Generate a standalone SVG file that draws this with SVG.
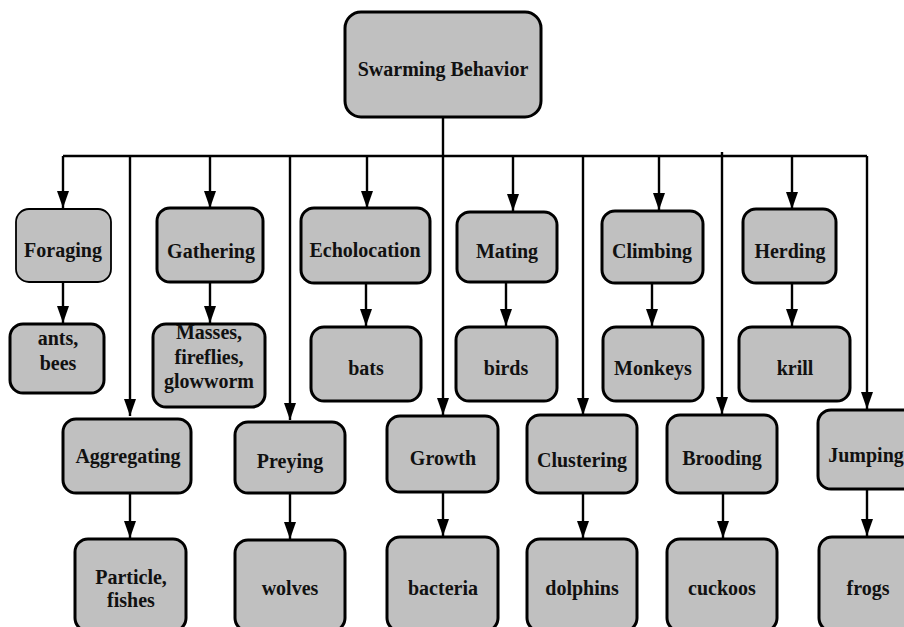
<svg xmlns="http://www.w3.org/2000/svg" width="904" height="627" viewBox="0 0 904 627">
<style>
.n rect{fill:#c0c0c0;stroke:#000;stroke-width:3}
.n.thin rect{stroke-width:1.8}
.n text{font-family:"Liberation Serif","Times New Roman",serif;font-weight:bold;font-size:20px;fill:#111;text-anchor:middle}
#connectors path{fill:none;stroke:#000;stroke-width:2.4}
</style>
<defs>
<marker id="ah" markerUnits="userSpaceOnUse" markerWidth="12" markerHeight="17" refX="6" refY="17" orient="0" viewBox="0 0 12 17">
<path d="M0,0 L12,0 L6,17 z" fill="#000"/>
</marker>
</defs>
<rect width="904" height="627" fill="#fff"/>
<g id="connectors">
<path d="M443,117 V156"/>
<path d="M63,156 H867"/>
<path d="M63,156 V208" marker-end="url(#ah)"/>
<path d="M130,156 V416" marker-end="url(#ah)"/>
<path d="M210,156 V208" marker-end="url(#ah)"/>
<path d="M290,156 V420" marker-end="url(#ah)"/>
<path d="M367,156 V208" marker-end="url(#ah)"/>
<path d="M443,156 V415" marker-end="url(#ah)"/>
<path d="M513,156 V211" marker-end="url(#ah)"/>
<path d="M583,156 V415" marker-end="url(#ah)"/>
<path d="M659,156 V210" marker-end="url(#ah)"/>
<path d="M722,152 V414" marker-end="url(#ah)"/>
<path d="M792,156 V209" marker-end="url(#ah)"/>
<path d="M867,156 V409" marker-end="url(#ah)"/>
<path d="M63,282 V323" marker-end="url(#ah)"/>
<path d="M210,282 V323" marker-end="url(#ah)"/>
<path d="M366,283 V326" marker-end="url(#ah)"/>
<path d="M506,282 V326" marker-end="url(#ah)"/>
<path d="M652,283 V326" marker-end="url(#ah)"/>
<path d="M792,283 V326" marker-end="url(#ah)"/>
<path d="M130,493 V538" marker-end="url(#ah)"/>
<path d="M290,493 V539" marker-end="url(#ah)"/>
<path d="M443,492 V536" marker-end="url(#ah)"/>
<path d="M583,493 V538" marker-end="url(#ah)"/>
<path d="M723,493 V538" marker-end="url(#ah)"/>
<path d="M867,489 V536" marker-end="url(#ah)"/>
</g>
<g id="swarming" class="n"><rect x="345" y="12" width="196" height="105" rx="16"/><text x="443" y="76">Swarming Behavior</text></g>
<g id="foraging" class="n thin"><rect x="16" y="209" width="95" height="73" rx="13"/><text x="63" y="257">Foraging</text></g>
<g id="gathering" class="n"><rect x="157" y="208" width="106" height="74" rx="13"/><text x="211" y="258">Gathering</text></g>
<g id="echolocation" class="n"><rect x="301" y="208" width="129" height="75" rx="13"/><text x="365" y="257">Echolocation</text></g>
<g id="mating" class="n"><rect x="457" y="212" width="100" height="70" rx="13"/><text x="507" y="258">Mating</text></g>
<g id="climbing" class="n"><rect x="602" y="211" width="101" height="72" rx="13"/><text x="652" y="258">Climbing</text></g>
<g id="herding" class="n"><rect x="743" y="209" width="93" height="74" rx="13"/><text x="790" y="258">Herding</text></g>
<g id="ants" class="n"><rect x="10" y="324" width="94" height="69" rx="13"/><text x="58" y="345">ants,</text><text x="58" y="370">bees</text></g>
<g id="masses" class="n"><rect x="153" y="324" width="112" height="83" rx="13"/><text x="209" y="339">Masses,</text><text x="209" y="364">fireflies,</text><text x="209" y="388">glowworm</text></g>
<g id="bats" class="n"><rect x="311" y="327" width="110" height="74" rx="13"/><text x="366" y="375">bats</text></g>
<g id="birds" class="n"><rect x="456" y="327" width="101" height="74" rx="13"/><text x="506" y="375">birds</text></g>
<g id="monkeys" class="n"><rect x="603" y="327" width="100" height="74" rx="13"/><text x="653" y="375">Monkeys</text></g>
<g id="krill" class="n"><rect x="739" y="327" width="111" height="74" rx="13"/><text x="795" y="375">krill</text></g>
<g id="aggregating" class="n"><rect x="63" y="419" width="128" height="74" rx="13"/><text x="128" y="463">Aggregating</text></g>
<g id="preying" class="n"><rect x="235" y="422" width="110" height="71" rx="13"/><text x="290" y="468">Preying</text></g>
<g id="growth" class="n"><rect x="387" y="416" width="111" height="76" rx="13"/><text x="443" y="465">Growth</text></g>
<g id="clustering" class="n"><rect x="527" y="415" width="110" height="78" rx="13"/><text x="582" y="467">Clustering</text></g>
<g id="brooding" class="n"><rect x="667" y="415" width="110" height="78" rx="13"/><text x="722" y="465">Brooding</text></g>
<g id="jumping" class="n"><rect x="818" y="410" width="100" height="79" rx="13"/><text x="866" y="462">Jumping</text></g>
<g id="particle" class="n"><rect x="75" y="539" width="111" height="92" rx="13"/><text x="131" y="584">Particle,</text><text x="131" y="607">fishes</text></g>
<g id="wolves" class="n"><rect x="235" y="540" width="110" height="91" rx="13"/><text x="290" y="595">wolves</text></g>
<g id="bacteria" class="n"><rect x="387" y="537" width="111" height="94" rx="13"/><text x="443" y="595">bacteria</text></g>
<g id="dolphins" class="n"><rect x="527" y="539" width="110" height="92" rx="13"/><text x="582" y="595">dolphins</text></g>
<g id="cuckoos" class="n"><rect x="667" y="539" width="110" height="92" rx="13"/><text x="722" y="595">cuckoos</text></g>
<g id="frogs" class="n"><rect x="819" y="537" width="100" height="94" rx="13"/><text x="868" y="595">frogs</text></g>
</svg>
